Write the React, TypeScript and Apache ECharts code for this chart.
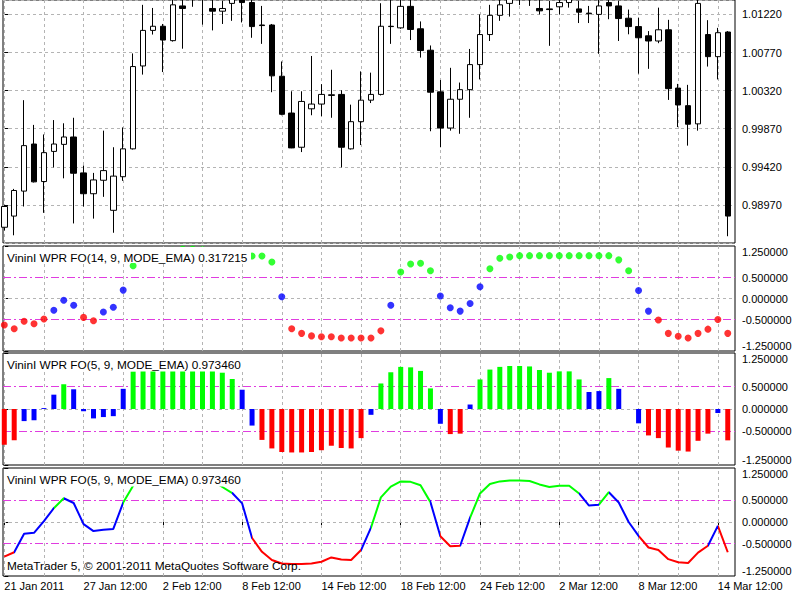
import React, { useEffect, useRef } from "react";
import * as echarts from "echarts";

// ---------- data ----------
const candleOpen = [
  0.98706, 0.98838, 0.99133, 0.99689, 0.99246, 0.99602, 0.99685, 0.99772, 0.99348, 0.99102,
  0.99261, 0.98906, 0.99303, 0.99632, 1.00611, 1.01031, 1.0108, 1.0091, 1.0132, 1.014,
  1.015, 1.0129, 1.01258, 1.0135, 1.0142, 1.0136, 1.01095, 1.01095, 1.0049, 1.00055,
  0.99651, 1.00105, 1.00161, 1.00263, 1.00275, 0.99632, 0.99953, 1.00207, 1.00275, 1.0108,
  1.01061, 1.01315, 1.0105, 1.00797, 1.00305, 0.99878, 1.00218, 1.00331, 1.00627, 1.00982,
  1.01209, 1.0135, 1.0142, 1.0148, 1.0129, 1.01285, 1.0131, 1.0136, 1.01285, 1.01235,
  1.0122, 1.0136, 1.0132, 1.01175, 1.01076, 1.00967, 1.00906, 1.01038, 1.0035, 1.00142,
  0.99927, 1.00982, 1.00721, 1.01012,
];
const candleClose = [
  0.98951, 0.9914, 0.9967, 0.99242, 0.99587, 0.99689, 0.99772, 0.99344, 0.99102, 0.99265,
  0.99375, 0.9931, 0.99632, 1.00604, 1.01031, 1.0108, 1.00917, 1.01333, 1.0129, 1.015,
  1.0142, 1.01258, 1.0129, 1.014, 1.0136, 1.01076, 1.01088, 1.00494, 1.0004, 0.99643,
  1.00192, 1.00161, 1.00275, 1.00271, 0.99651, 0.99953, 1.00207, 1.00275, 1.0108, 1.01076,
  1.01315, 1.01042, 1.00793, 1.00301, 0.99878, 1.00218, 1.00331, 1.00627, 1.00982, 1.01209,
  1.01333, 1.0142, 1.0148, 1.0144, 1.01262, 1.01277, 1.0136, 1.014, 1.01246, 1.01228,
  1.0132, 1.0132, 1.01171, 1.01076, 1.00944, 1.00906, 1.01038, 1.00343, 1.0015, 0.99923,
  1.0135, 1.00721, 1.01004, 0.98838,
];
const candleLow = [
  0.98668, 0.98611, 0.98951, 0.99235, 0.98876, 0.99413, 0.99284, 0.98751, 0.98951, 0.98808,
  0.99065, 0.98641, 0.99254, 0.99624, 1.00509, 1.00982, 1.00539, 1.00899, 1.00815, 1.0131,
  1.01099, 1.01031, 1.01107, 1.01144, 1.01125, 1.00944, 1.00872, 1.00301, 1.00029, 0.9964,
  0.99594, 1.00029, 1.00018, 0.99999, 0.99413, 0.99624, 0.99677, 1.00173, 1.00263, 1.00872,
  1.0105, 1.00917, 1.0071, 0.9984, 0.99651, 0.99847, 0.9981, 0.99999, 1.00452, 1.00906,
  1.01144, 1.01194, 1.0133, 1.0132, 1.0122, 1.00849, 1.0122, 1.013, 1.01118, 1.01118,
  1.00755, 1.01163, 1.00906, 1.00985, 1.0052, 1.00577, 1.0088, 1.0021, 0.99889, 0.9967,
  0.99847, 1.00604, 1.00452, 0.986,
];
const candleHigh = [
  0.9897, 0.99159, 1.00207, 0.99915, 0.99802, 0.99972, 0.99934, 0.99999, 0.99435, 0.99348,
  0.99847, 0.99651, 0.99885, 1.00759, 1.01333, 1.01296, 1.01107, 1.01428, 1.0145, 1.016,
  1.0162, 1.014, 1.0138, 1.015, 1.0152, 1.014, 1.0132, 1.01107, 1.00664, 1.00312,
  1.00312, 1.00729, 1.00396, 1.00566, 1.00324, 1.00154, 1.00547, 1.00532, 1.01352, 1.0139,
  1.014, 1.01428, 1.01137, 1.00853, 1.00445, 1.00589, 1.00415, 1.00812, 1.0122, 1.01333,
  1.0142, 1.0152, 1.0158, 1.016, 1.014, 1.0138, 1.0145, 1.015, 1.0138, 1.0132,
  1.014, 1.0145, 1.0138, 1.01277, 1.01182, 1.01023, 1.013, 1.01156, 1.00399, 1.00388,
  1.0142, 1.01152, 1.01061, 1.01023,
];

// VininI WPR FO(14, 9, MODE_EMA)
const wpr14 = [
  -0.63, -0.72, -0.54, -0.6, -0.49, -0.28, -0.04, -0.16, -0.45, -0.53, -0.32, -0.21, 0.2, 0.78,
  1.0, 1.08, 1.12, 1.15, 1.17, 1.17, 1.16, 1.14, 1.12, 1.08, 1.04, 1.01, 1.01, 0.87,
  0.04, -0.72, -0.83, -0.89, -0.91, -0.91, -0.94, -0.94, -0.94, -0.94, -0.77,
  -0.16, 0.63, 0.82, 0.84, 0.66, 0.06, -0.22, -0.3, -0.12, 0.28,
  0.71, 0.96, 0.99, 1.02, 1.02, 1.02, 1.02, 1.02, 1.02, 1.02, 1.02, 1.02, 1.02, 0.92, 0.66,
  0.19, -0.3, -0.51, -0.83, -0.9, -0.94, -0.83, -0.73, -0.5, -0.83,
];
const wpr14Colors = (
  "rrrrrbbbrrbbbg" + "gggggggggggggg" + "b" + "rrrrrrrrrr" + "b" + "gggg" + "bbbbb" +
  "ggggggggggggggg" + "bb" + "rrrrrrrr"
).split("");

// VininI WPR FO(5, 9, MODE_EMA)
const wpr5 = [
  -0.8, -0.7, -0.27, -0.25, 0.02, 0.32, 0.55, 0.44, -0.05, -0.21, -0.18, -0.16, 0.45, 0.84,
  0.95, 1.02, 1.06, 1.08, 1.08, 1.06, 1.02, 0.95, 0.81, 0.67, 0.43, -0.37, -0.69, -0.88,
  -0.96, -0.97, -0.97, -0.96, -0.92, -0.82, -0.87, -0.88, -0.65, -0.13, 0.57, 0.82, 0.94, 0.93,
  0.85, 0.46, -0.33, -0.56, -0.55, 0.1, 0.66, 0.88, 0.94, 0.96, 0.96, 0.95, 0.87, 0.81,
  0.84, 0.84, 0.66, 0.38, 0.4, 0.69, 0.45, 0.0, -0.32, -0.59, -0.65, -0.86, -0.93, -0.95,
  -0.71, -0.55, -0.09, -0.7,
];
const wpr5Colors = (
  "rrbbbbgbbbbbbg" + "gggggggggg" + "bb" + "rrrrrrrrrrr" + "b" + "gggggg" + "b" + "rr" + "b" +
  "ggggggggggg" + "bb" + "g" + "bbb" + "rrrrrrr" + "b" + "r"
).split("");

const dateLabels = [
  "21 Jan 2011", "27 Jan 12:00", "2 Feb 12:00", "8 Feb 12:00", "14 Feb 12:00",
  "18 Feb 12:00", "24 Feb 12:00", "2 Mar 12:00", "8 Mar 12:00", "14 Mar 12:00",
];
const labelBars = [0, 8, 16, 24, 32, 40, 48, 56, 64, 72];
const gridBars = [0, 4, 8, 12, 16, 20, 24, 28, 32, 36, 40, 44, 48, 52, 56, 60, 64, 68, 72];
const levelTicks = [-1.25, -0.5, 0, 0.5, 1.25];
const titles = [
  "VininI WPR FO(14, 9, MODE_EMA) 0.317215",
  "VininI WPR FO(5, 9, MODE_EMA) 0.973460",
  "VininI WPR FO(5, 9, MODE_EMA) 0.973460",
];
const copyright = "MetaTrader 5, \u00a9 2001-2011 MetaQuotes Software Corp.";

// ---------- style / layout ----------
const FONT = "'Liberation Sans', Arial, sans-serif";
const GRID_COLOR = "#b4b4b4";
const LEVEL_COLOR = "#e03ce0";
const COLORS: Record<string, string> = { g: "#00ff00", b: "#0000ff", r: "#ff0000" };
const X_MIN = -0.13;
const X_MAX = 73.73;
const PRICE_MIN = 0.9852;
const PRICE_MAX = 1.013901;
const panes = [
  { top: -10, height: 253 },
  { top: 246, height: 105 },
  { top: 353, height: 112 },
  { top: 468, height: 108 },
];
const titleBoxes = [
  { y: 247, h: 16, textY: 257.5 },
  { y: 354, h: 17.5, textY: 365 },
  { y: 469, h: 17.5, textY: 480 },
];

function buildOption() {
  const grids = panes.map((p) => ({
    left: 3,
    width: 732,
    top: p.top,
    height: p.height,
    show: true,
    borderColor: "#000",
    borderWidth: 1,
    backgroundColor: "#fff",
  }));

  const xAxes = panes.map((_, k) => ({
    type: "value",
    gridIndex: k,
    min: X_MIN,
    max: X_MAX,
    show: k === 3,
    axisLine: { show: false },
    splitLine: { show: false },
    axisTick: {
      show: k === 3,
      customValues: labelBars,
      length: 5,
      lineStyle: { color: "#000" },
    },
    axisLabel: {
      show: k === 3,
      customValues: labelBars,
      formatter: (v: number) => dateLabels[Math.round(v / 8)] ?? "",
      align: "left",
      margin: 4,
      fontSize: 11,
      fontFamily: FONT,
      color: "#000",
    },
  }));

  const yAxes: any[] = [
    {
      type: "value",
      gridIndex: 0,
      position: "right",
      min: PRICE_MIN,
      max: PRICE_MAX,
      interval: 0.0045,
      axisLine: { show: false },
      axisTick: { show: true, length: 4, lineStyle: { color: "#000" } },
      axisLabel: {
        showMinLabel: false,
        showMaxLabel: false,
        formatter: (v: number) => v.toFixed(5),
        margin: 7,
        fontSize: 11,
        fontFamily: FONT,
        color: "#000",
      },
      splitLine: { show: true, lineStyle: { color: GRID_COLOR, type: [3, 3], width: 1 } },
    },
  ];
  for (let k = 1; k < 4; k++) {
    yAxes.push({
      type: "value",
      gridIndex: k,
      position: "right",
      min: -1.25,
      max: 1.25,
      axisLine: { show: false },
      splitLine: { show: false },
      axisTick: { show: true, customValues: levelTicks, length: 4, lineStyle: { color: "#000" } },
      axisLabel: {
        customValues: levelTicks,
        formatter: (v: number) => v.toFixed(6),
        margin: 7,
        fontSize: 11,
        fontFamily: FONT,
        color: "#000",
        verticalAlignMaxLabel: "top",
        verticalAlignMinLabel: "bottom",
      },
    });
  }

  const levelStyle = { color: LEVEL_COLOR, type: [8, 3, 2, 3], width: 1 };
  const helpers = panes.map((_, k) => ({
    type: "line",
    xAxisIndex: k,
    yAxisIndex: k,
    data: [],
    silent: true,
    z: 1,
    markLine: {
      z: 1,
      symbol: ["none", "none"],
      silent: true,
      animation: false,
      label: { show: false },
      emphasis: { disabled: true },
      lineStyle: { color: GRID_COLOR, type: [3, 3], width: 1 },
      data: [
        ...gridBars.map((b) => ({ xAxis: b })),
        ...(k > 0
          ? [
              { yAxis: 0 },
              { yAxis: 0.5, lineStyle: levelStyle },
              { yAxis: -0.5, lineStyle: levelStyle },
            ]
          : []),
      ],
    },
  }));

  // line colour pieces: segment (i-1, i] takes the colour of bar i
  const pieces: any[] = [{ lte: 0, color: COLORS[wpr5Colors[0]] }];
  for (let i = 1; i < wpr5.length; i++) {
    const c = COLORS[wpr5Colors[i]];
    const last = pieces[pieces.length - 1];
    if (last.color === c && last.lte === i - 1) last.lte = i;
    else pieces.push({ gt: i - 1, lte: i, color: c });
  }
  pieces.push({ gt: wpr5.length - 1, color: COLORS[wpr5Colors[wpr5.length - 1]] });

  const series: any[] = [
    ...helpers,
    {
      type: "candlestick",
      xAxisIndex: 0,
      yAxisIndex: 0,
      data: candleOpen.map((o, i) => [i, o, candleClose[i], candleLow[i], candleHigh[i]]),
      encode: { x: 0, y: [1, 2, 3, 4] },
      barWidth: 6,
      z: 3,
      itemStyle: {
        color: "#ffffff",
        color0: "#000000",
        borderColor: "#000000",
        borderColor0: "#000000",
        borderWidth: 1,
      },
    },
    {
      type: "scatter",
      xAxisIndex: 1,
      yAxisIndex: 1,
      data: wpr14.map((v, i) => [i, v]),
      symbolSize: 7,
      z: 3,
      itemStyle: { color: (p: any) => COLORS[wpr14Colors[p.dataIndex]] },
    },
    {
      type: "bar",
      xAxisIndex: 2,
      yAxisIndex: 2,
      barWidth: 5,
      z: 3,
      data: wpr5.map((v, i) => ({ value: [i, v], itemStyle: { color: COLORS[wpr5Colors[i]] } })),
    },
    {
      type: "line",
      xAxisIndex: 3,
      yAxisIndex: 3,
      data: wpr5.map((v, i) => [i, v]),
      showSymbol: false,
      z: 3,
      lineStyle: { width: 2 },
    },
  ];

  const graphic: any[] = [];
  titleBoxes.forEach((b, k) => {
    graphic.push({
      type: "rect",
      z: 100,
      silent: true,
      shape: { x: 4, y: b.y, width: 247, height: b.h },
      style: { fill: "#ffffff" },
    });
    graphic.push({
      type: "text",
      z: 101,
      silent: true,
      x: 7,
      y: b.textY,
      style: {
        text: titles[k],
        fontSize: 11.8,
        fontFamily: FONT,
        fill: "#000",
        verticalAlign: "middle",
      },
    });
  });
  graphic.push({
    type: "text",
    z: 101,
    silent: true,
    x: 7,
    y: 566,
    style: { text: copyright, fontSize: 11.8, fontFamily: FONT, fill: "#000", verticalAlign: "middle" },
  });

  return {
    animation: false,
    backgroundColor: "#ffffff",
    textStyle: { fontFamily: FONT },
    grid: grids,
    xAxis: xAxes,
    yAxis: yAxes,
    visualMap: [
      { type: "piecewise", show: false, dimension: 0, seriesIndex: 7, pieces },
    ],
    series,
    graphic,
  };
}

export default function App() {
  const ref = useRef<HTMLDivElement>(null);
  useEffect(() => {
    if (!ref.current) return;
    const chart = echarts.init(ref.current, undefined, { renderer: "svg" });
    chart.setOption(buildOption() as any);
    return () => chart.dispose();
  }, []);
  return (
    <div
      ref={ref}
      style={{ position: "absolute", left: 0, top: 0, width: 800, height: 600, background: "#fff" }}
    />
  );
}
